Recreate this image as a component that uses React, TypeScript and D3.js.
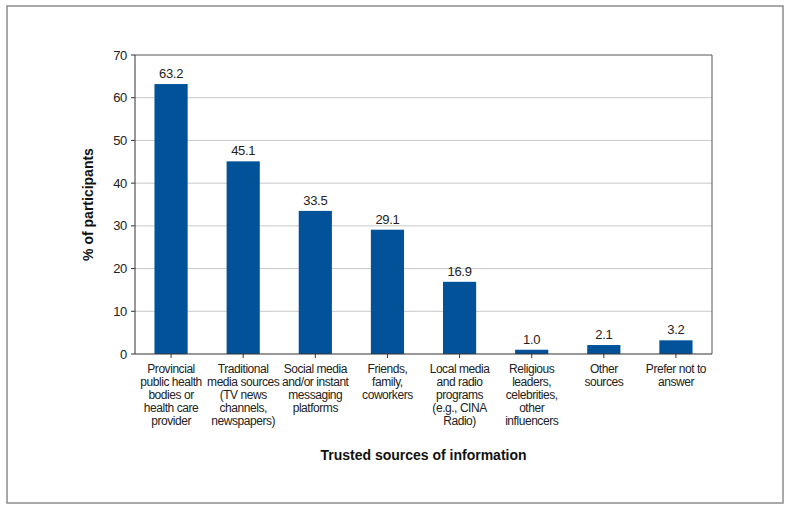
import React from "react";
import * as d3 from "d3";

const categories: string[][] = [
  ["Provincial", "public health", "bodies or", "health care", "provider"],
  ["Traditional", "media sources", "(TV news", "channels,", "newspapers)"],
  ["Social media", "and/or instant", "messaging", "platforms"],
  ["Friends,", "family,", "coworkers"],
  ["Local media", "and radio", "programs", "(e.g., CINA", "Radio)"],
  ["Religious", "leaders,", "celebrities,", "other", "influencers"],
  ["Other", "sources"],
  ["Prefer not to", "answer"],
];
const values: number[] = [63.2, 45.1, 33.5, 29.1, 16.9, 1.0, 2.1, 3.2];
const yTicks: number[] = [0, 10, 20, 30, 40, 50, 60, 70];
const yTitle = "% of participants";
const xTitle = "Trusted sources of information";

const W = 791;
const H = 511;
const left = 135;
const right = 712;
const top = 55;
const bottom = 354;
const font = "Liberation Sans, Arial, Helvetica, sans-serif";

export default function App() {
  const ids = categories.map((_, i) => String(i));
  const x = d3.scaleBand<string>().domain(ids).range([left, right]).paddingInner(0.54).paddingOuter(0.27);
  const y = d3.scaleLinear().domain([0, 70]).range([bottom, top]);

  return (
    <svg
      width={W}
      height={H}
      style={{ position: "fixed", left: 0, top: 0, background: "#fff" }}
      fontFamily={font}
    >
      <rect x={7} y={6} width={776} height={497} fill="#fff" stroke="#8c8c8c" strokeWidth={1.5} />
      {yTicks.filter((t) => t > 0 && t < 70).map((t) => (
        <line key={"g" + t} x1={left} x2={right} y1={y(t)} y2={y(t)} stroke="#c8c8c8" strokeWidth={1} />
      ))}
      <line x1={left} x2={right} y1={y(70)} y2={y(70)} stroke="#555" strokeWidth={1} />
      <line x1={right} x2={right} y1={top} y2={bottom} stroke="#555" strokeWidth={1} />
      {values.map((v, i) => (
        <rect
          key={"b" + i}
          x={x(ids[i])!}
          y={y(v)}
          width={x.bandwidth()}
          height={bottom - y(v)}
          fill="#02529a"
        />
      ))}
      {values.map((v, i) => (
        <text
          key={"v" + i}
          x={x(ids[i])! + x.bandwidth() / 2}
          y={y(v) - 6}
          textAnchor="middle"
          fontSize={13}
          letterSpacing={-0.3}
          fill="#222"
        >
          {v.toFixed(1)}
        </text>
      ))}
      <line x1={left} x2={left} y1={top} y2={bottom} stroke="#333" strokeWidth={1} />
      <line x1={left} x2={right} y1={bottom} y2={bottom} stroke="#333" strokeWidth={1} />
      {yTicks.map((t) => (
        <g key={"t" + t}>
          <line x1={left - 4} x2={left} y1={y(t)} y2={y(t)} stroke="#333" />
          <text x={left - 8} y={y(t)} dy="0.35em" textAnchor="end" fontSize={13} letterSpacing={-0.3} fill="#222">
            {t}
          </text>
        </g>
      ))}
      {categories.map((lines, i) => {
        const cx = x(ids[i])! + x.bandwidth() / 2;
        return (
          <g key={"c" + i}>
            <line x1={cx} x2={cx} y1={bottom} y2={bottom + 4} stroke="#333" />
            <text textAnchor="middle" fontSize={12} letterSpacing={-0.45} fill="#222">
              {lines.map((l, j) => (
                <tspan key={j} x={cx} y={373 + j * 13}>
                  {l}
                </tspan>
              ))}
            </text>
          </g>
        );
      })}
      <text
        transform={`translate(93, ${(top + bottom) / 2}) rotate(-90)`}
        textAnchor="middle"
        fontSize={14}
        fontWeight="bold"
        fill="#111"
      >
        {yTitle}
      </text>
      <text x={(left + right) / 2} y={460} textAnchor="middle" fontSize={14} fontWeight="bold" fill="#111">
        {xTitle}
      </text>
    </svg>
  );
}
